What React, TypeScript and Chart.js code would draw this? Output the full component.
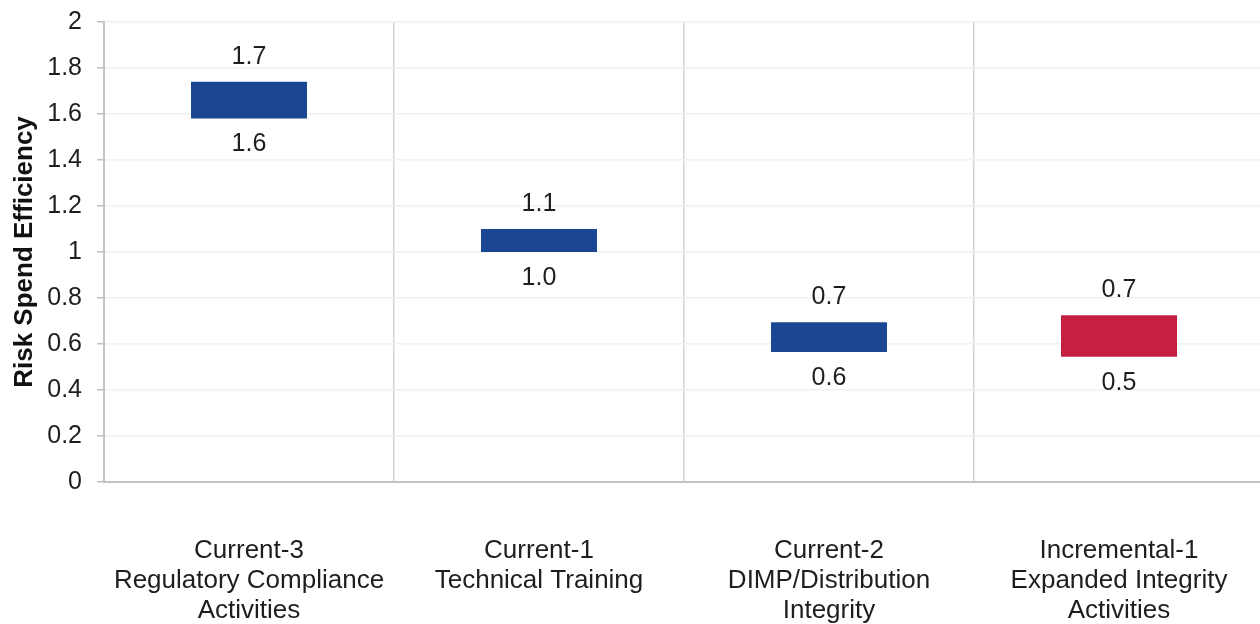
import React, { useEffect, useRef } from "react";
import { Chart, registerables } from "chart.js";

Chart.register(...registerables);

const categories: string[][] = [
  ["Current-3", "Regulatory Compliance", "Activities"],
  ["Current-1", "Technical Training"],
  ["Current-2", "DIMP/Distribution", "Integrity"],
  ["Incremental-1", "Expanded Integrity", "Activities"],
];
const lowValues = [1.58, 1.0, 0.565, 0.545];
const highValues = [1.74, 1.1, 0.695, 0.725];
const barColors = ["#1b4792", "#1b4792", "#1b4792", "#c61f40"];
const yTitle = "Risk Spend Efficiency";

const FONT = "'Liberation Sans', Arial, sans-serif";

const valueLabelPlugin = {
  id: "valueLabels",
  afterDatasetsDraw(chart: any) {
    const ctx = chart.ctx;
    const meta = chart.getDatasetMeta(0);
    const y = chart.scales.y;
    ctx.save();
    ctx.font = `25px ${FONT}`;
    ctx.fillStyle = "#1e1e1e";
    ctx.textAlign = "center";
    ctx.textBaseline = "middle";
    meta.data.forEach((bar: any, i: number) => {
      const top = y.getPixelForValue(highValues[i]);
      const bottom = y.getPixelForValue(lowValues[i]);
      ctx.fillText(highValues[i].toFixed(1), bar.x, top - 25);
      ctx.fillText(lowValues[i].toFixed(1), bar.x, bottom + 26);
    });
    ctx.restore();
  },
};

export default function App() {
  const ref = useRef<HTMLCanvasElement | null>(null);
  useEffect(() => {
    if (!ref.current) return;
    const chart = new Chart(ref.current, {
      type: "bar",
      data: {
        labels: categories,
        datasets: [
          {
            data: lowValues.map((lo, i) => [lo, highValues[i]]) as any,
            backgroundColor: barColors,
            borderWidth: 0,
            categoryPercentage: 1,
            barPercentage: 0.4,
          },
        ],
      },
      options: {
        animation: false,
        responsive: false,
        maintainAspectRatio: false,
        layout: { padding: { top: 22, bottom: 0, left: 0, right: 0 } },
        plugins: {
          legend: { display: false },
          tooltip: { enabled: false },
        },
        scales: {
          x: {
            afterFit: (scale: any) => {
              scale.height = 142;
              scale.paddingLeft = 0;
              scale.paddingRight = 0;
            },
            grid: {
              offset: true,
              color: "#d3d3d3",
              lineWidth: 1.5,
              drawTicks: false,
            },
            border: { color: "#c4c4c4", width: 2 },
            ticks: {
              padding: 54,
              color: "#1e1e1e",
              font: { family: FONT, size: 26, lineHeight: 1.15 },
              maxRotation: 0,
              minRotation: 0,
              autoSkip: false,
            },
          },
          y: {
            min: 0,
            max: 2,
            afterFit: (scale: any) => {
              scale.width = 104;
              scale.paddingTop = 0;
              scale.paddingBottom = 0;
            },
            grid: {
              color: "#edf2f2",
              lineWidth: 1.5,
              tickColor: "#c0c0c0",
              tickLength: 7,
            },
            border: { color: "#c4c4c4", width: 2 },
            ticks: {
              stepSize: 0.2,
              padding: 15,
              color: "#1e1e1e",
              font: { family: FONT, size: 25 },
              callback: (v: any) => String(parseFloat(Number(v).toFixed(1))),
            },
            title: {
              display: true,
              text: yTitle,
              color: "#111",
              font: { family: FONT, size: 26, weight: "bold" },
              padding: { top: 9, bottom: 0 },
            },
          },
        },
      },
      plugins: [valueLabelPlugin],
    });
    return () => chart.destroy();
  }, []);
  return (
    <div
      style={{
        position: "fixed",
        left: 0,
        top: 0,
        width: 1260,
        height: 624,
        overflow: "hidden",
        background: "#fff",
      }}
    >
      <canvas ref={ref} width={1264} height={624} style={{ display: "block" }} />
    </div>
  );
}
